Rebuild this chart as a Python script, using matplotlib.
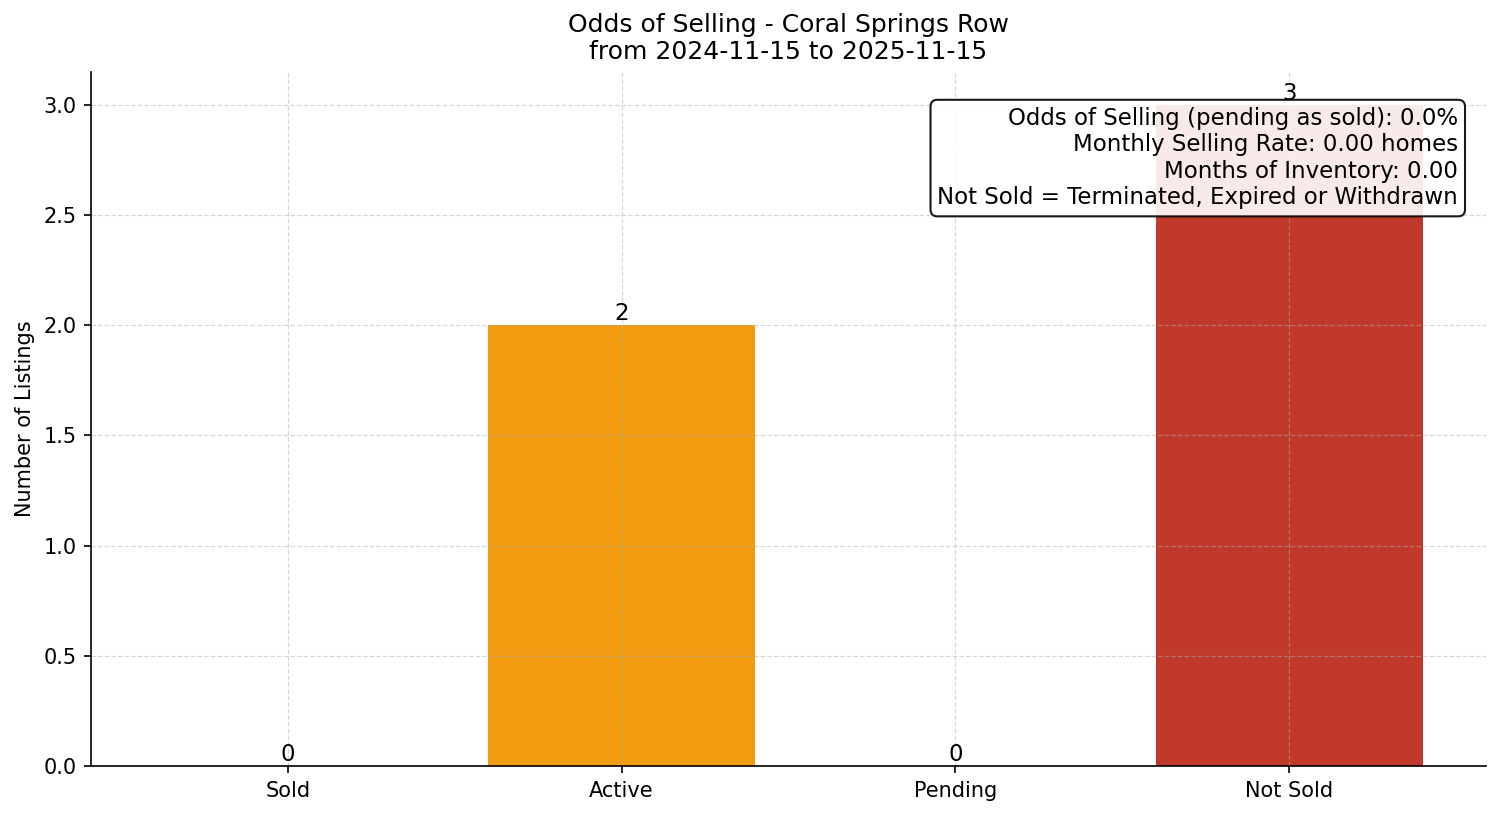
import matplotlib
matplotlib.use('Agg')
import matplotlib.pyplot as plt

categories = ['Sold', 'Active', 'Pending', 'Not Sold']
counts = [0, 2, 0, 3]
colors = ['#27ae60', '#f39c12', '#3498db', '#c0392b']

odds = 0.0
monthly_rate = 0.00
months_inventory = 0.00

fig, ax = plt.subplots(figsize=(10.007, 5.44), dpi=150)
bars = ax.bar(categories, counts, color=colors, width=0.8)
for b, c in zip(bars, counts):
    ax.text(b.get_x() + b.get_width() / 2, b.get_height(), str(c),
            ha='center', va='bottom', fontsize=11)

ax.set_title('Odds of Selling - Coral Springs Row\nfrom 2024-11-15 to 2025-11-15', fontsize=12)
ax.set_ylabel('Number of Listings')
ax.grid(True, linestyle='--', alpha=0.5, linewidth=0.6)
ax.spines['top'].set_visible(False)
ax.spines['right'].set_visible(False)

txt = (f'Odds of Selling (pending as sold): {odds:.1f}%\n'
       f'Monthly Selling Rate: {monthly_rate:.2f} homes\n'
       f'Months of Inventory: {months_inventory:.2f}\n'
       'Not Sold = Terminated, Expired or Withdrawn')
ax.text(0.98, 0.95, txt, transform=ax.transAxes, ha='right', va='top', fontsize=11,
        bbox=dict(boxstyle='round', facecolor='white', alpha=0.9))

fig.subplots_adjust(left=0.0606, right=0.990, top=0.9118, bottom=0.0613)
plt.savefig('out.png')
